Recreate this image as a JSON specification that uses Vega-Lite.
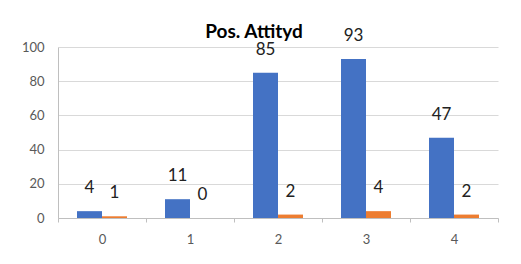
{
  "$schema": "https://vega.github.io/schema/vega-lite/v6.json",
  "width": 440,
  "height": 171,
  "autosize": {"type": "none"},
  "padding": {"left": 58, "top": 47, "right": 23, "bottom": 46},
  "title": {"text": "Pos. Attityd", "fontSize": 19, "fontWeight": "bold", "font": "Lato", "color": "#000000", "anchor": "middle", "frame": "group", "dx": -24, "dy": 34, "offset": 4, "baseline": "alphabetic"},
  "config": {"view": {"stroke": null}},
  "data": {"values": [
    {"cat": "0", "series": "Serie1", "value": 4},
    {"cat": "0", "series": "Serie2", "value": 1},
    {"cat": "1", "series": "Serie1", "value": 11},
    {"cat": "1", "series": "Serie2", "value": 0},
    {"cat": "2", "series": "Serie1", "value": 85},
    {"cat": "2", "series": "Serie2", "value": 2},
    {"cat": "3", "series": "Serie1", "value": 93},
    {"cat": "3", "series": "Serie2", "value": 4},
    {"cat": "4", "series": "Serie1", "value": 47},
    {"cat": "4", "series": "Serie2", "value": 2}
  ]},
  "encoding": {
    "x": {"field": "cat", "type": "ordinal", "scale": {"paddingInner": 0, "paddingOuter": 0},
      "axis": {"title": null, "labelAngle": 0, "tickBand": "extent", "tickSize": 4, "tickColor": "#bfbfbf", "domainColor": "#bfbfbf", "labelFont": "Lato", "labelFontSize": 13, "labelColor": "#595959", "labelPadding": 11, "grid": false}},
    "xOffset": {"field": "series", "type": "nominal", "scale": {"paddingInner": 0, "paddingOuter": 0.76}},
    "y": {"field": "value", "type": "quantitative", "scale": {"domain": [0, 100]},
      "axis": {"title": null, "values": [0, 20, 40, 60, 80, 100], "ticks": false, "domainColor": "#bfbfbf", "gridColor": "#d9d9d9", "labelPadding": 14, "labelFont": "Lato", "labelFontSize": 13, "labelColor": "#595959"}}
  },
  "layer": [
    {"mark": {"type": "bar"}, "encoding": {"color": {"field": "series", "type": "nominal", "scale": {"range": ["#4472C4", "#ED7D31"]}, "legend": null}}},
    {"mark": {"type": "text", "dy": -23, "fontSize": 17, "font": "Lato", "baseline": "middle", "color": "#222222"}, "encoding": {"text": {"field": "value", "type": "quantitative"}}}
  ]
}
